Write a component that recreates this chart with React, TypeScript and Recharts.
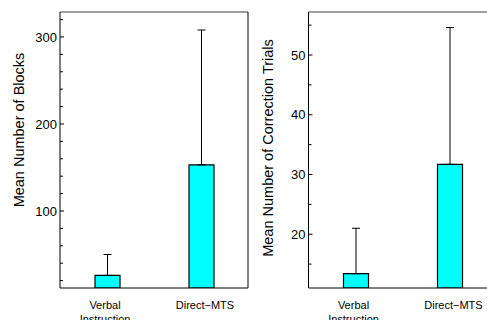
import React from "react";
import { Bar, BarChart, ErrorBar, ReferenceLine, XAxis, YAxis } from "recharts";

// conditions shared by both panels
const conditions = ["Verbal\nInstruction", "Direct\u2212MTS"];

// left panel: blocks
const blocksMean = [26, 153];
const blocksErr = [24, 155];
const blocksDomain = [11.5, 328.7];
const blocksTicks = [20, 40, 60, 80, 100, 120, 140, 160, 180, 200, 220, 240, 260, 280, 300, 320];
const blocksMajor = [100, 200, 300];

// right panel: correction trials
const trialsMean = [13.4, 31.7];
const trialsErr = [7.6, 22.9];
const trialsDomain = [11, 57.2];
const trialsTicks = [15, 20, 25, 30, 35, 40, 45, 50, 55];
const trialsMajor = [20, 30, 40, 50];

const FONT = "Liberation Sans, Arial, Helvetica, sans-serif";

const makeRows = (mean: number[], err: number[]) =>
    conditions.map((name, i) => ({ name, mean: mean[i], err: [0, err[i]] }));

const yTick = (major: number[]) => (props: any) => {
    const { x, y, payload } = props;
    const axisX = x + 4;
    const isMajor = major.includes(payload.value);
    return (
        <g>
            <line x1={axisX} x2={axisX + (isMajor ? 4 : 3)} y1={y} y2={y} stroke="#000" strokeWidth={1} />
            {isMajor && (
                <text x={axisX - 3} y={y} dy="0.35em" textAnchor="end" fontSize={13} fontFamily={FONT} fill="#000">
                    {payload.value}
                </text>
            )}
        </g>
    );
};

const xTick = (props: any) => {
    const { x, y, payload, index } = props;
    const lines = String(payload.value).split("\n");
    const dx = index === 0 ? -2 : 4;
    return (
        <text x={x + dx} y={y} textAnchor="middle" fontSize={11} fontFamily={FONT} fill="#000">
            {lines.map((l, i) => (
                <tspan key={i} x={x + dx} dy={i === 0 ? 21 : 14}>
                    {l}
                </tspan>
            ))}
        </text>
    );
};

interface PanelProps {
    rows: any[]
    domain: number[]
    ticks: number[]
    major: number[]
    label: string
    labelX: number
    labelY: number
    width: number
    axisWidth: number
}

const Panel: React.FC<PanelProps> = ({ rows, domain, ticks, major, label, labelX, labelY, width, axisWidth }) => {
    return (
        <BarChart width={width} height={320} data={rows} margin={{ top: 12, right: 2, bottom: 0, left: 0 }} barCategoryGap={0}>
            <XAxis
                dataKey="name"
                height={32}
                tickLine={false}
                tickSize={0}
                tickMargin={0}
                interval={0}
                axisLine={{ stroke: "#000" }}
                tick={xTick}
            />
            <YAxis
                type="number"
                domain={domain}
                allowDataOverflow
                ticks={ticks}
                interval={0}
                width={axisWidth}
                tickLine={false}
                tickSize={0}
                tickMargin={4}
                axisLine={{ stroke: "#000" }}
                tick={yTick(major)}
                label={{
                    content: () => (
                        <text
                            x={labelX}
                            y={labelY}
                            transform={`rotate(-90 ${labelX} ${labelY})`}
                            textAnchor="middle"
                            dominantBaseline="central"
                            fontSize={14.5}
                            fontFamily={FONT}
                            fill="#000"
                        >
                            {label}
                        </text>
                    ),
                }}
            />
            {/* box frame: top edge and right edge */}
            <ReferenceLine y={domain[1]} stroke="#7f7f7f" strokeWidth={1.5} ifOverflow="visible" />
            <ReferenceLine x={conditions[1]} position="end" stroke="#000" strokeWidth={1} ifOverflow="visible" />
            <Bar dataKey="mean" fill="#00ffff" stroke="#000" strokeWidth={1.2} barSize={25} isAnimationActive={false}>
                <ErrorBar dataKey="err" width={4} stroke="#000" strokeWidth={1} direction="y" />
            </Bar>
        </BarChart>
    );
};

export default function App() {
    return (
        <div style={{ position: "fixed", left: 0, top: 0, width: 487, height: 320, overflow: "hidden", background: "#fff" }}>
            <div style={{ position: "absolute", left: 0, top: 0 }}>
                <Panel
                    rows={makeRows(blocksMean, blocksErr)}
                    domain={blocksDomain}
                    ticks={blocksTicks}
                    major={blocksMajor}
                    label="Mean Number of Blocks"
                    labelX={19}
                    labelY={130}
                    width={250}
                    axisWidth={60}
                />
            </div>
            <div style={{ position: "absolute", left: 250, top: 0 }}>
                <Panel
                    rows={makeRows(trialsMean, trialsErr)}
                    domain={trialsDomain}
                    ticks={trialsTicks}
                    major={trialsMajor}
                    label="Mean Number of Correction Trials"
                    labelX={18}
                    labelY={148}
                    width={248.5}
                    axisWidth={58.5}
                />
            </div>
        </div>
    );
}
